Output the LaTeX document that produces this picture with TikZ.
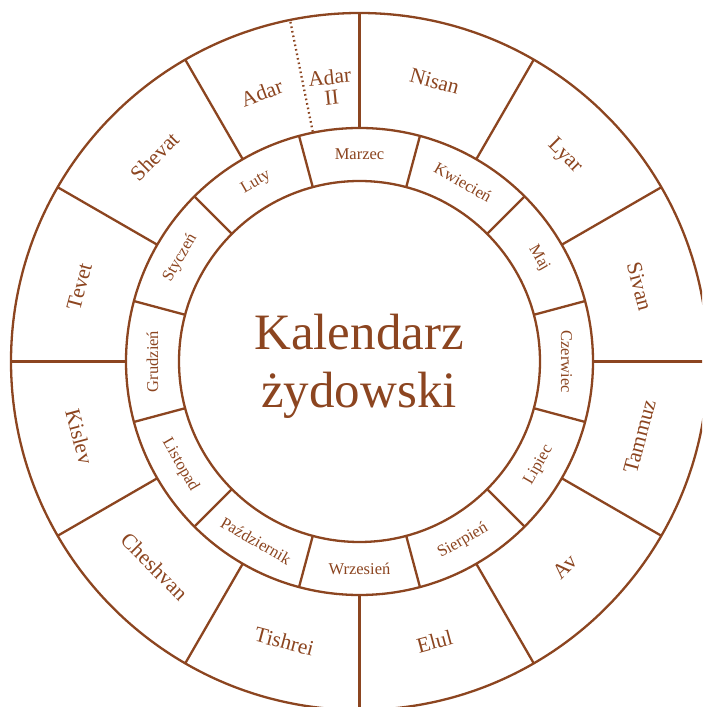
\documentclass[tikz,border=0pt]{standalone}
\usepackage{fontspec}
\setmainfont{Liberation Serif}
\definecolor{kbrown}{RGB}{140,69,32}
\tikzset{
  ring/.style={draw=kbrown, line width=2.3pt},
  divider/.style={draw=kbrown, line width=2.3pt},
  dotdiv/.style={draw=kbrown, line width=2.3pt, dash pattern=on 1.6pt off 3pt},
  outerlbl/.style={text=kbrown, font=\fontsize{21.5}{21.5}\selectfont, inner sep=0pt},
  innerlbl/.style={text=kbrown, font=\fontsize{16.5}{17}\selectfont, inner sep=0pt},
  titlelbl/.style={text=kbrown, font=\fontsize{51}{58}\selectfont, align=center, inner sep=0pt}
}
\begin{document}
\begin{tikzpicture}[x=1pt,y=1pt]
\useasboundingbox (0,0) rectangle (702,707);
\clip (0,0) rectangle (702,707);
\fill[white] (0,0) rectangle (702,707);
\begin{scope}[shift={(359.5,345.5)}]
  \coordinate (c) at (0,0);
  % circles
  \draw[ring] (c) circle (348.5);
  \draw[ring] (c) circle (233.5);
  \draw[ring] (c) circle (180.5);
  % outer dividers
  \foreach \a in {0,30,...,330} {
    \draw[divider] (\a:233.5) -- (\a:348.5);
  }
  % inner dividers
  \foreach \a in {15,45,...,345} {
    \draw[divider] (\a:180.5) -- (\a:233.5);
  }
  % dotted divider in Adar sector
  \draw[dotdiv] (101.5:234.5) -- (101.5:347.5);
  % outer labels
  \foreach \t/\ang/\rot [count=\i] in {Nisan/75/-15, Lyar/45/-45, Sivan/15/-75, Tammuz/-15/75, Av/-45/45, Elul/-75/15, Tishrei/-105/-15, Cheshvan/-135/-45, Kislev/-165/-75, Tevet/165/75, Shevat/135/45} {
    \node[outerlbl, rotate=\rot] (o\i) at (\ang:290) {\t};
  }
  \node[outerlbl, rotate=20] (oadar) at (110:286) {Adar};
  \node[outerlbl, rotate=6, align=center, font=\fontsize{21.5}{20}\selectfont] (oadartwo) at (96:276) {Adar\\II};
  % inner labels
  \foreach \t/\ang/\rot [count=\i] in {Marzec/90/0, Kwiecień/60/-30, Maj/30/-60, Czerwiec/0/-90, Lipiec/-30/60, Sierpień/-60/30, Wrzesień/-90/0, Październik/-120/-30, Listopad/-150/-60, Grudzień/180/90, Styczeń/150/60, Luty/120/30} {
    \node[innerlbl, rotate=\rot] (m\i) at (\ang:207) {\t};
  }
\end{scope}
\node[titlelbl] (title) at (359,341) {Kalendarz\\żydowski};
\end{tikzpicture}
\end{document}
